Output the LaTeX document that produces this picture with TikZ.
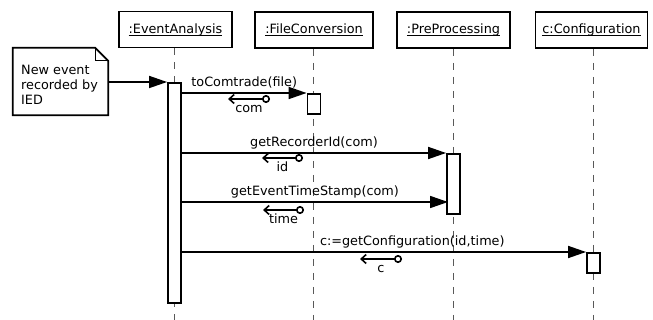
\documentclass[tikz,border=0pt]{standalone}
\usepackage{fontspec}
\setmainfont{DejaVu Sans}
\usetikzlibrary{arrows.meta}
\newcommand{\objul}[1]{\leavevmode\setbox0\hbox{#1}\rlap{\raisebox{-2.6pt}{\rule{\wd0}{0.9pt}}}\box0}
\tikzset{
  obj/.style={draw, line width=1.9pt, minimum height=36pt, inner sep=0pt, fill=white},
  lifeline/.style={draw=black!65, line width=1.6pt, dash pattern=on 7pt off 7pt},
  actbar/.style={draw, fill=white, line width=1.8pt, minimum width=13pt, inner sep=0pt, anchor=north},
  msg/.style={line width=1.7pt, -{Triangle[length=18pt,width=12pt]}},
  ret/.style={line width=1.6pt, {Circle[open,length=8pt,width=8pt,line width=1.6pt]}-{Straight Barb[length=5pt,width=9pt,line width=1.6pt]}},
  mlbl/.style={inner sep=0pt, anchor=base, yshift=6.5pt},
  rlbl/.style={inner sep=0pt, anchor=base, yshift=-13.3pt}
}
\begin{document}
\begin{tikzpicture}[x=1pt,y=-1pt,font=\fontsize{12.8}{15}\selectfont]
\useasboundingbox (0,0) rectangle (653,320);

% objects
\node[obj, minimum width=113pt] (ea) at (175.5,29.5) {\objul{:EventAnalysis}};
\node[obj, minimum width=118pt] (fc) at (314,30) {\objul{:FileConversion}};
\node[obj, minimum width=113pt] (pp) at (453.5,30) {\objul{:PreProcessing}};
\node[obj, minimum width=112pt] (cf) at (591.5,30) {\objul{c:Configuration}};

% lifelines
\coordinate (eaend) at (174.5,320);
\coordinate (fcend) at (313.5,320);
\coordinate (ppend) at (453.5,320);
\coordinate (cfend) at (593.5,320);
\draw[lifeline] (eaend |- ea.south) -- (eaend);
\draw[lifeline] (fcend |- fc.south) -- (fcend);
\draw[lifeline] (ppend |- pp.south) -- (ppend);
\draw[lifeline] (cfend |- cf.south) -- (cfend);

% activation bars
\node[actbar, minimum height=220pt] (eaact) at (174.5,82) {};
\node[actbar, minimum height=20pt] (fcact) at (314,93) {};
\node[actbar, minimum height=60pt] (ppact) at (453.5,153) {};
\node[actbar, minimum height=20pt] (cfact) at (593.5,252) {};

% note
\node[minimum width=95pt, minimum height=67pt, inner sep=0pt] (note) at (60.5,81.5) {};
\draw[line width=1.8pt] (note.north west) -- ([xshift=-13pt]note.north east) -- ([yshift=-13pt]note.north east) -- (note.south east) -- (note.south west) -- cycle;
\draw[line width=0.9pt] ([xshift=-13pt]note.north east) -- ([xshift=-13pt,yshift=-13pt]note.north east) -- ([yshift=-13pt]note.north east);
\node[align=left, anchor=base west, inner sep=0pt, font=\fontsize{12.8}{15.3}\selectfont] (notetext) at (21,105) {New event\\recorded by\\IED};

% messages
\draw[msg] (note.east |- eaact.north) -- (eaact.north west);
\draw[msg] (eaact.east |- fcact.north) -- (fcact.north west)
  node[mlbl, midway] {toComtrade(file)};
\draw[msg] (eaact.east |- ppact.north) -- (ppact.north west)
  node[mlbl, midway] {getRecorderId(com)};
\coordinate (tsend) at (448,202);
\draw[msg] (eaact.east |- tsend) -- (tsend)
  node[mlbl, midway] {getEventTimeStamp(com)};
\draw[msg] (eaact.east |- cfact.north) -- (cfact.north west)
  node[mlbl, pos=0.57] {c:=getConfiguration(id,time)};

% returns
\coordinate (r1a) at (270,99);  \coordinate (r1b) at (228,99);
\coordinate (r2a) at (303,158); \coordinate (r2b) at (262,158);
\coordinate (r3a) at (304,210); \coordinate (r3b) at (263,210);
\coordinate (r4a) at (402,259); \coordinate (r4b) at (360,259);
\draw[ret] (r1a) -- (r1b) node[rlbl, midway] {com};
\draw[ret] (r2a) -- (r2b) node[rlbl, midway] {id};
\draw[ret] (r3a) -- (r3b) node[rlbl, midway] {time};
\draw[ret] (r4a) -- (r4b) node[rlbl, midway] {c};
\end{tikzpicture}
\end{document}
